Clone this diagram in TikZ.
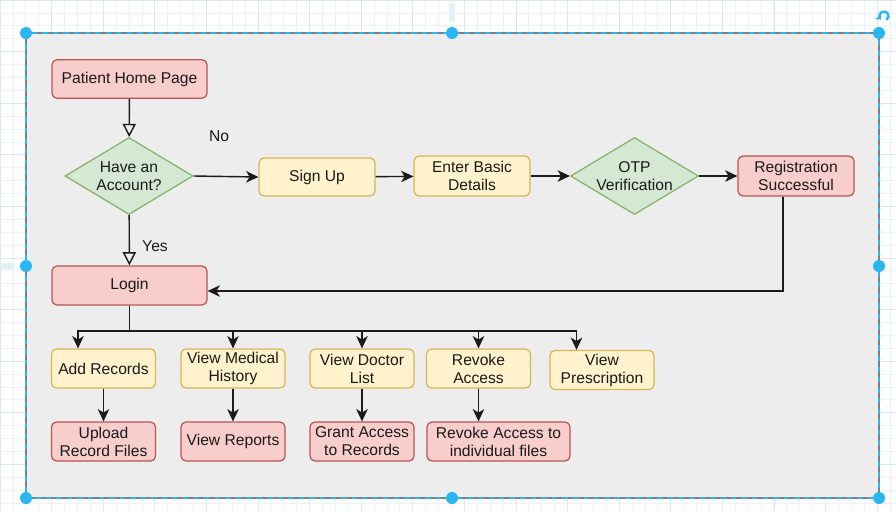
\documentclass[tikz,border=0pt]{standalone}
\usepackage{fontspec}
\setmainfont{Liberation Sans}
\usetikzlibrary{arrows.meta,shapes.geometric,calc}

\definecolor{pinkfill}{HTML}{F8CECC}
\definecolor{pinkline}{HTML}{B85450}
\definecolor{yellowfill}{HTML}{FFF2CC}
\definecolor{yellowline}{HTML}{D6B656}
\definecolor{greenfill}{HTML}{D5E8D4}
\definecolor{greenline}{HTML}{82B366}
\definecolor{canvas}{HTML}{EDEDED}
\definecolor{selblue}{HTML}{29B6F2}
\definecolor{guide}{HTML}{E2F0FC}
\definecolor{gridminor}{HTML}{EBF2FA}
\definecolor{gridmajor}{HTML}{D9E7F7}
\definecolor{ink}{HTML}{1A1A1A}
\definecolor{frame}{HTML}{808080}

\begin{document}
\begin{tikzpicture}[
  x=0.02cm, y=-0.02cm,
  font=\fontsize{8.9}{10.2}\selectfont,
  box/.style={rectangle, rounded corners=2.8pt, draw, line width=0.7pt,
    align=center, inner sep=1pt, text=ink},
  pinkbox/.style={box, fill=pinkfill, draw=pinkline},
  yellowbox/.style={box, fill=yellowfill, draw=yellowline},
  wide/.style={minimum width=3.1cm, minimum height=0.77cm},
  mid/.style={minimum width=2.32cm, minimum height=0.78cm},
  small/.style={minimum width=2.08cm, minimum height=0.78cm},
  decision/.style={diamond, aspect=1.66, fill=greenfill, draw=greenline,
    line width=0.7pt, minimum width=2.56cm, minimum height=1.54cm,
    inner sep=0pt, align=center, text=ink},
  flow/.style={draw=ink, line width=0.8pt, -{Stealth[length=7pt,width=6.5pt,inset=2pt]}},
  plain/.style={draw=ink, line width=0.8pt},
  choice/.style={draw=ink, line width=0.8pt, -{Triangle[open,length=7.5pt,width=7.5pt]}},
  lbl/.style={text=ink, inner sep=0pt},
  handle/.style={fill=selblue, draw=none}
]
\useasboundingbox (0,0) rectangle (896,511);

% editor grid
\fill[white] (0,0) rectangle (896,511);
\draw[gridminor, line width=0.4pt, step=0.258cm] (0,0) grid (896,511);
\draw[gridmajor, line width=0.4pt, step=1.032cm] (0,0) grid (896,511);
\fill[guide] (449,4) rectangle (455,21);
\fill[guide] (0,263) rectangle (14,269);

% container
\fill[canvas] (26,33) rectangle (879,498);
\draw[frame, line width=0.8pt] (26,33) rectangle (879,498);
\draw[selblue, line width=0.8pt, dash pattern=on 3pt off 3pt] (26,33) rectangle (879,498);

% nodes
\node[pinkbox, wide] (home) at (129.5,79) {Patient Home Page};
\node[decision] (acct) at (129,176) {Have an\\Account?};
\node[yellowbox, mid, minimum height=0.76cm] (signup) at (317,177) {Sign Up};
\node[yellowbox, mid, minimum height=0.8cm] (details) at (472,176) {Enter Basic\\Details};
\node[decision] (otp) at (634.5,176) {OTP\\Verification};
\node[pinkbox, mid, minimum height=0.8cm] (reg) at (796,176) {Registration\\Successful};
\node[pinkbox, wide, minimum height=0.78cm] (login) at (129.5,285.5) {Login};

\node[yellowbox, small] (add) at (103.5,368.5) {Add Records};
\node[yellowbox, small] (hist) at (233,368.5) {View Medical\\History};
\node[yellowbox, small] (docs) at (362,368.5) {View Doctor\\List};
\node[yellowbox, small] (revoke) at (478.5,368.5) {Revoke\\Access};
\node[yellowbox, small] (presc) at (602,370) {View\\Prescription};

\node[pinkbox, small] (upload) at (103.5,441.5) {Upload\\Record Files};
\node[pinkbox, small] (reports) at (233,441.5) {View Reports};
\node[pinkbox, small] (grant) at (362,441.5) {Grant Access\\to Records};
\node[pinkbox, minimum width=2.86cm, minimum height=0.78cm] (revfiles) at (498.5,441.5) {Revoke Access to\\individual files};

\node[lbl] (nolbl) at (219,136) {No};
\node[lbl] (yeslbl) at (155,246) {Yes};

% connectors
\draw[choice] (home) -- (acct);
\draw[choice] (acct) -- (login);
\draw[flow] (acct.east) -- (signup.west);
\draw[flow] (signup) -- (details);
\draw[flow] (details) -- (otp);
\draw[flow] (otp) -- (reg);
\draw[flow] ($(reg.south)+(-13,0)$) |- ($(login.east)+(0,5.5)$);

\coordinate (bus) at (129.5,331);
\draw[plain] (login.south) -- (bus);
\draw[flow] (bus) -| ($(add.north)+(-25.5,0)$);
\draw[flow] (bus) -| (hist.north);
\draw[flow] (bus) -| (docs.north);
\draw[flow] (bus) -| (revoke.north);
\draw[flow] (bus) -| ($(presc.north)+(-25.5,0)$);

\draw[flow] (add) -- (upload);
\draw[flow] (hist) -- (reports);
\draw[flow] (docs) -- (grant);
\draw[flow] (revoke.south) -- (revoke.south |- revfiles.north);

% selection handles
\foreach \hx/\hy in {26/33, 452/33, 879/33, 26/266, 879/266, 26/498, 452/498, 879/498}
  \fill[handle] (\hx,\hy) circle (0.12cm);

% rotation handle
\draw[selblue, line width=1.4pt, -{Stealth[length=3pt,width=4.5pt]}]
  ($(884,16)+(60:4.5)$) arc[start angle=60, end angle=-230, radius=4.5];
\end{tikzpicture}
\end{document}
